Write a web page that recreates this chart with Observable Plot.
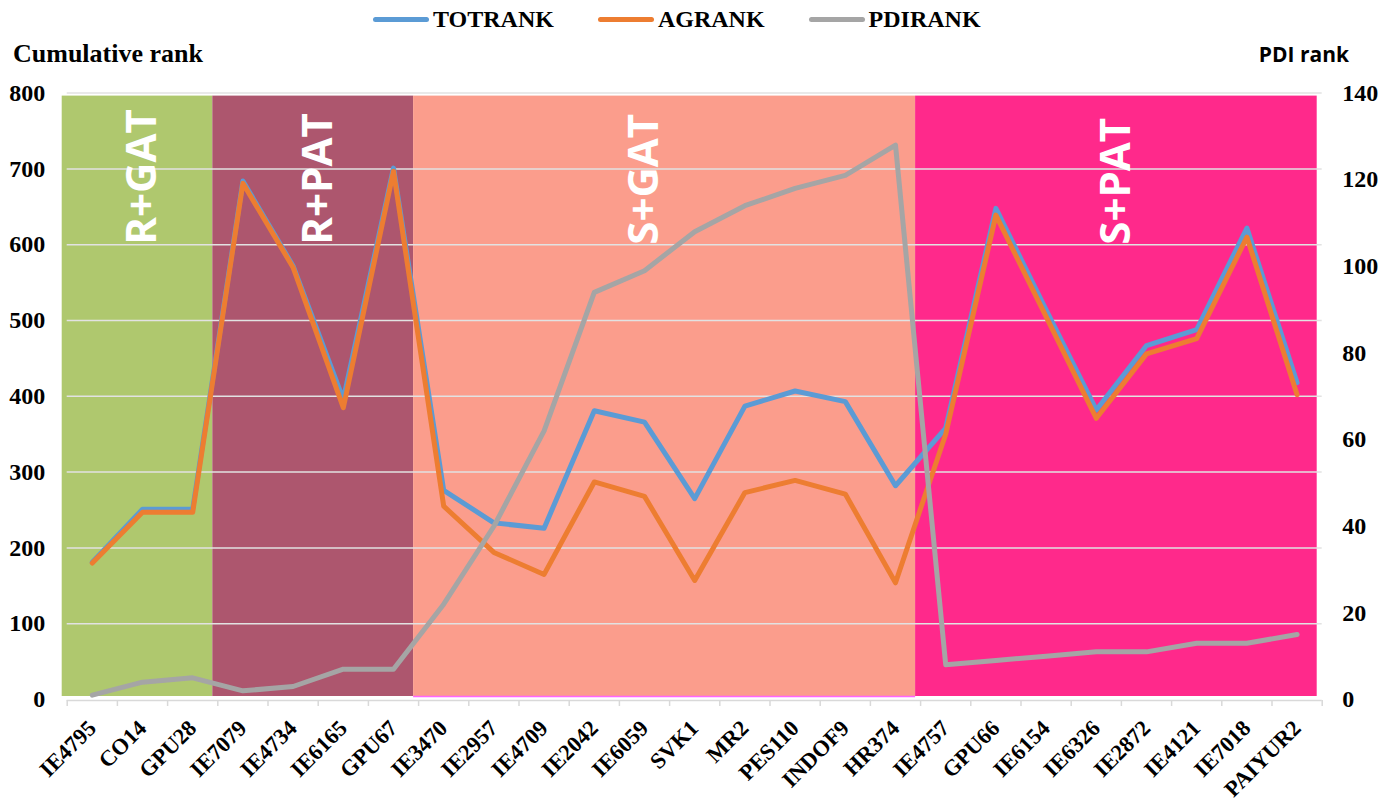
<!DOCTYPE html>
<html><head><meta charset="utf-8">
<script src="https://cdn.jsdelivr.net/npm/d3@7"></script>
<script src="https://cdn.jsdelivr.net/npm/@observablehq/plot@0.6"></script>
<style>
body{margin:0;background:#fff;}
#wrap{position:relative;width:1396px;height:803px;}
#legend{position:absolute;top:7px;left:373px;display:flex;align-items:center;font:bold 24px/24px "Liberation Serif";color:#000;}
.item{display:flex;align-items:center;margin-right:44px;}
.sw{width:56px;height:5px;border-radius:3px;margin-right:4px;}
#ltitle{position:absolute;left:13px;top:41px;font:bold 26px/26px "Liberation Serif";color:#000;}
#rtitle{position:absolute;right:47px;top:44px;font:bold 21px/21px "Open Sans";color:#000;}
</style>
</head><body>
<div id="wrap">
  <div id="chart"></div>
  <div id="legend"></div>
  <div id="ltitle">Cumulative rank</div>
  <div id="rtitle">PDI rank</div>
</div>
<script>
const categories = ["IE4795","CO14","GPU28","IE7079","IE4734","IE6165","GPU67","IE3470","IE2957","IE4709","IE2042","IE6059","SVK1","MR2","PES110","INDOF9","HR374","IE4757","GPU66","IE6154","IE6326","IE2872","IE4121","IE7018","PAIYUR2"];
const totRank = [181,251,251,684,572,396,701,276,233,226,381,366,265,387,407,393,282,358,648,514,382,467,488,622,418];
const agRank  = [180,247,247,681,570,385,697,255,194,165,287,268,157,273,289,271,154,350,639,505,371,456,476,610,402];
const pdiRank = [1,4,5,2,3,7,7,22,40,62,94,99,108,114,118,121,128,8,9,10,11,11,13,13,15];
const groups = ["R+GAT","R+PAT","S+GAT","S+PAT"];
const groupSizes = [3,4,10,8];
const groupColors = ["#afc86e","#ad566e","#fb9d8c","#ff298b"];
const groupLabelX = [1.5, 5, 11.5, 20.9];
const leftTicks = [0,100,200,300,400,500,600,700,800];
const rightTicks = [0,20,40,60,80,100,120,140];
const seriesNames = ["TOTRANK","AGRANK","PDIRANK"];
const seriesColors = ["#5b9bd5","#ed7d31","#a5a5a5"];

const leftMax = 800, rightMax = 140;
const n = categories.length;
const rows = categories.map((c,i)=>({c, i, tot: totRank[i], ag: agRank[i], pdi: pdiRank[i]*leftMax/rightMax}));
let s = 0;
const groupRows = groups.map((g,k)=>{const r={g, start:s, end:s+groupSizes[k], fill:groupColors[k], lx:groupLabelX[k]}; s+=groupSizes[k]; return r;});
const sgat = groupRows[2];

const chart = Plot.plot({
  width:1396, height:803,
  marginLeft:66.7, marginRight:74.3, marginTop:92.6, marginBottom:104,
  x:{type:"linear", domain:[0,n], axis:null},
  y:{domain:[0,leftMax], axis:null},
  color:{type:"identity"},
  style:{fontFamily:"Liberation Serif", fontWeight:"bold", fontSize:"24px", color:"#000", background:"#fff", overflow:"visible"},
  marks:[
    Plot.rect(groupRows, {x1:"start", x2:"end", y1:0, y2:leftMax, fill:"fill", insetTop:3, insetBottom:3, dx:-5}),
    Plot.ruleY([0], {x1:sgat.start, x2:sgat.end, stroke:"#ff66ff", strokeWidth:1.5, dx:-5, dy:-3}),
    Plot.ruleY(leftTicks.filter(v=>v>0), {stroke:"#e2e2e2", strokeWidth:1.5}),
    Plot.ruleY([0], {stroke:"#d9d9d9", strokeWidth:1.5, dy:1}),
    Plot.axisX(d3.range(0,n+1), {tickSize:6, tickFormat:()=>"", stroke:"#d9d9d9", strokeWidth:1.5, dy:1, label:null}),
    Plot.text(rows, {x:d=>d.i+0.5, y:0, text:"c", rotate:-45, textAnchor:"end", lineAnchor:"middle", dy:25, dx:0, fontSize:22.5, fontWeight:"bold", fontFamily:"Liberation Serif", fill:"#000"}),
    Plot.axisY(leftTicks, {anchor:"left", tickSize:0, tickPadding:22, label:null, fontSize:24}),
    Plot.axisY(rightTicks.map(v=>v*leftMax/rightMax), {anchor:"right", tickSize:0, tickPadding:20, label:null, fontSize:24, tickFormat:d=>Math.round(d*rightMax/leftMax)}),
    Plot.text(groupRows, {x:"lx", y:600, text:"g", rotate:-90, textAnchor:"start", lineAnchor:"middle", fill:"white", fontSize:42, fontWeight:"bold", fontFamily:"Open Sans"}),
    Plot.line(rows, {x:d=>d.i+0.5, y:"tot", stroke:seriesColors[0], strokeWidth:5, strokeLinejoin:"round", strokeLinecap:"round"}),
    Plot.line(rows, {x:d=>d.i+0.5, y:"ag", stroke:seriesColors[1], strokeWidth:5, strokeLinejoin:"round", strokeLinecap:"round"}),
    Plot.line(rows, {x:d=>d.i+0.5, y:"pdi", stroke:seriesColors[2], strokeWidth:5, strokeLinejoin:"round", strokeLinecap:"round"})
  ]
});
document.getElementById("chart").appendChild(chart);

const legend = document.getElementById("legend");
seriesNames.forEach((name,k)=>{
  const it = document.createElement("div"); it.className="item";
  const sw = document.createElement("div"); sw.className="sw"; sw.style.background=seriesColors[k];
  const tx = document.createElement("span"); tx.textContent=name;
  it.appendChild(sw); it.appendChild(tx); legend.appendChild(it);
});
</script>
</body></html>
